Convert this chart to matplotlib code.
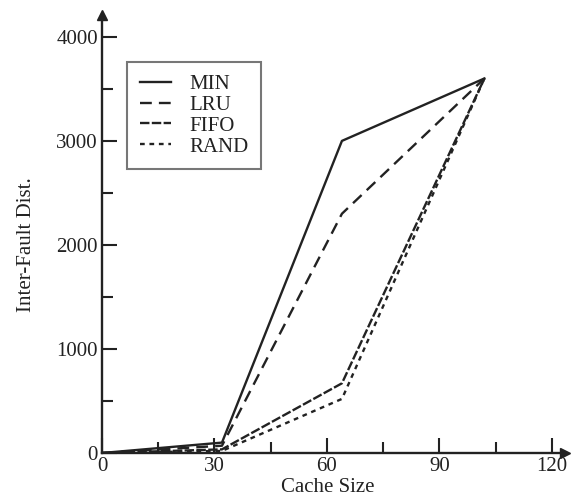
import matplotlib.pyplot as plt

# values
cache_size = [0, 32, 64, 102]
min_dist = [0, 100, 3000, 3600]
lru_dist = [0, 70, 2300, 3600]
fifo_dist = [0, 35, 670, 3600]
rand_dist = [0, 20, 520, 3600]

plt.rcParams['font.family'] = ['Liberation Serif', 'DejaVu Serif']
ink = '#222222'

fig = plt.figure(figsize=(5.77, 4.98), dpi=100)
ax = fig.add_axes([102 / 577, 45 / 498, 463 / 577, 438 / 498])

ax.plot(cache_size, min_dist, color=ink, lw=1.7, ls='-', label='MIN')
ax.plot(cache_size, lru_dist, color=ink, lw=1.7, ls=(0, (5, 3)), label='LRU')
ax.plot(cache_size, fifo_dist, color=ink, lw=1.7, ls=(0, (4, 1)), label='FIFO')
ax.plot(cache_size, rand_dist, color=ink, lw=1.7, ls=(0, (2, 2)), label='RAND')

ax.set_xlim(0, 123.5)
ax.set_ylim(0, 4210)
ax.set_xticks([0, 30, 60, 90, 120])
ax.set_xticks([15, 45, 75, 105], minor=True)
ax.set_yticks([0, 1000, 2000, 3000, 4000])
ax.set_yticks([500, 1500, 2500, 3500], minor=True)

for side in ['top', 'right']:
    ax.spines[side].set_visible(False)
for side in ['left', 'bottom']:
    ax.spines[side].set_color(ink)
    ax.spines[side].set_linewidth(1.7)

ax.tick_params(which='major', direction='in', length=11, width=1.5,
               color=ink, labelsize=15, labelcolor=ink, pad=3)
ax.tick_params(which='minor', direction='in', length=8, width=1.5, color=ink)

# arrow heads on the axes
ax.plot(1, 0, '>', color=ink, ms=7, transform=ax.transAxes, clip_on=False)
ax.plot(0, 1, '^', color=ink, ms=7, transform=ax.transAxes, clip_on=False)

ax.set_xlabel('Cache Size', fontsize=15, color=ink)
ax.set_ylabel('Inter-Fault Dist.', fontsize=15, color=ink)
ax.xaxis.set_label_coords(0.488, -0.058)
ax.yaxis.set_label_coords(-0.142, 0.475)

leg = ax.legend(loc='upper left', bbox_to_anchor=(127 / 577, 1 - 62 / 498),
                bbox_transform=fig.transFigure, borderaxespad=0,
                fontsize=15, handlelength=1.5, handletextpad=0.9,
                labelspacing=0.06, borderpad=0.6, fancybox=False,
                labelcolor=ink)
leg.get_frame().set_edgecolor('#555555')
leg.get_frame().set_linewidth(1.5)

fig.savefig('out.png', dpi=100)
